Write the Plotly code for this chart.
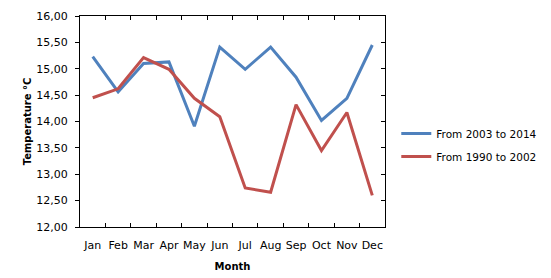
import plotly.graph_objects as go

months = ["Jan", "Feb", "Mar", "Apr", "May", "Jun", "Jul", "Aug", "Sep", "Oct", "Nov", "Dec"]
temp_2003_2014 = [15.23, 14.56, 15.10, 15.13, 13.91, 15.41, 14.99, 15.41, 14.84, 14.02, 14.44, 15.45]
temp_1990_2002 = [14.45, 14.62, 15.21, 14.99, 14.44, 14.09, 12.74, 12.66, 14.32, 13.45, 14.17, 12.60]
y_ticks = [12.0, 12.5, 13.0, 13.5, 14.0, 14.5, 15.0, 15.5, 16.0]

FONT = "DejaVu Sans"
n = len(months)
boundaries = [i + 0.5 for i in range(n - 1)]

fig = go.Figure()
fig.add_trace(go.Scatter(x=months, y=temp_2003_2014, mode="lines", name="From 2003 to 2014",
                         line=dict(color="#4F81BD", width=3), legendgroup="a"))
fig.add_trace(go.Scatter(x=months, y=temp_1990_2002, mode="lines", name="From 1990 to 2002",
                         line=dict(color="#C0504D", width=3), legendgroup="b"))
# empty helper trace so the top/right tick axes (inside ticks of the frame) get drawn
fig.add_trace(go.Scatter(x=[None], y=[None], xaxis="x2", yaxis="y2", mode="lines",
                         showlegend=False, hoverinfo="skip"))

# page body has an 8px margin, so the figure is 8px smaller and shifted
fig.update_layout(
    width=543, height=270,
    margin=dict(l=72, r=166, t=8, b=51, autoexpand=False),
    paper_bgcolor="white", plot_bgcolor="white",
    separators=", ",
    font=dict(family=FONT, size=11, color="black"),
    showlegend=True,
    legend=dict(x=1.037, xanchor="left", y=0.389, yanchor="middle",
                font=dict(size=10.5, family=FONT), tracegroupgap=4,
                bgcolor="rgba(0,0,0,0)"),
    xaxis=dict(
        type="category", showline=True, linecolor="black", linewidth=1, mirror=True,
        ticks="inside", ticklen=4, tickcolor="black", tickson="boundaries",
        tickangle=0, ticklabelstandoff=8, tickfont=dict(size=11, family=FONT),
        showgrid=False, zeroline=False, range=[-0.5, n - 0.5], automargin=False,
        title=dict(text="<b>Month</b>", font=dict(size=10, family=FONT), standoff=11),
    ),
    xaxis2=dict(
        overlaying="x", side="top", anchor="y", range=[-0.5, n - 0.5],
        tickvals=boundaries, ticks="inside", ticklen=4, tickcolor="black",
        showticklabels=False, showgrid=False, zeroline=False, showline=False,
        automargin=False,
    ),
    yaxis=dict(
        range=[12, 16], tickvals=y_ticks, tickformat=".2f",
        showline=True, linecolor="black", linewidth=1, mirror=True,
        ticks="outside", ticklen=4, tickcolor="black", ticklabelstandoff=5,
        tickfont=dict(size=11, family=FONT), automargin=False,
        showgrid=False, zeroline=False,
        title=dict(text="<b>Temperature °C</b>", font=dict(size=10, family=FONT), standoff=2),
    ),
    yaxis2=dict(
        overlaying="y", side="right", anchor="x", range=[12, 16],
        tickvals=y_ticks, ticks="inside", ticklen=4, tickcolor="black",
        showticklabels=False, showgrid=False, zeroline=False, showline=False,
        automargin=False,
    ),
)

fig.write_html("out.html")
